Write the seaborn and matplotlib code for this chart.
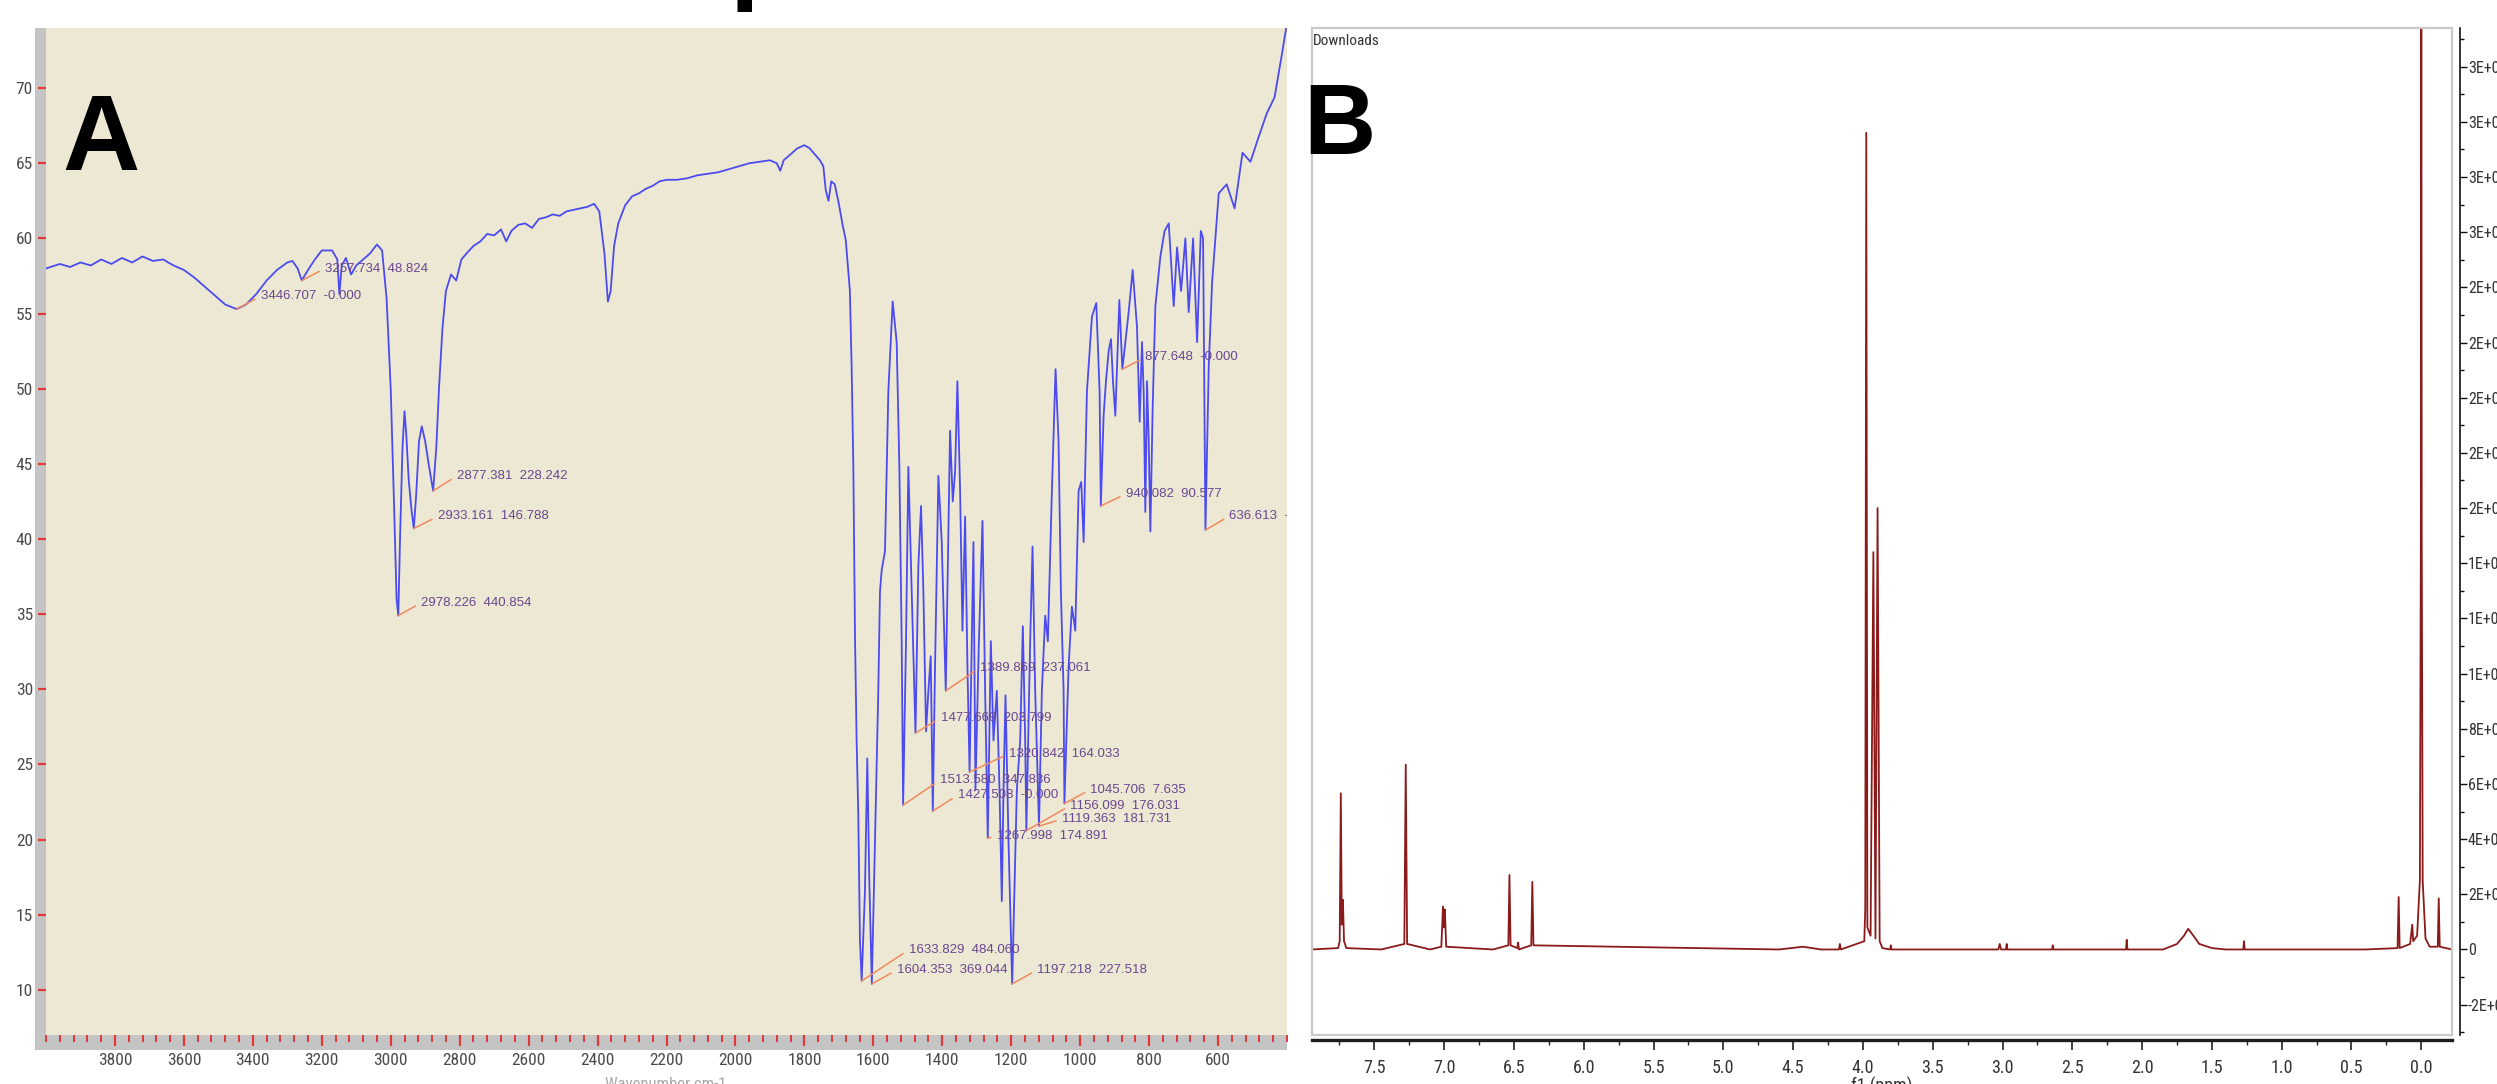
import matplotlib
matplotlib.use("Agg")
import matplotlib.pyplot as plt
import seaborn as sns
import numpy as np
from matplotlib import font_manager
from matplotlib.font_manager import FontProperties
from matplotlib.patches import Rectangle
from matplotlib.ticker import MultipleLocator, FuncFormatter, FormatStrFormatter

# ---- panel A: IR spectrum (wavenumber, %T) ----
ir_wn = [4000, 3960, 3930, 3900, 3870, 3840, 3810, 3780, 3750, 3720, 3690, 3660, 3630, 3600,
         3570, 3540, 3510, 3480, 3447, 3420, 3390, 3360, 3330, 3300, 3285, 3270, 3258, 3240,
         3220, 3200, 3170, 3155, 3149, 3142, 3130, 3115, 3100, 3080, 3060, 3040, 3025, 3012,
         3000, 2990, 2983, 2978, 2973, 2966, 2960, 2955, 2948, 2940, 2933, 2926, 2918, 2910,
         2900, 2890, 2877, 2868, 2860, 2850, 2840, 2825, 2810, 2795, 2780, 2760, 2740, 2720,
         2700, 2680, 2665, 2650, 2630, 2610, 2590, 2570, 2550, 2530, 2510, 2490, 2470, 2450,
         2430, 2410, 2395, 2380, 2370, 2362, 2352, 2340, 2320, 2300, 2280, 2260, 2240, 2220,
         2200, 2170, 2140, 2110, 2080, 2050, 2020, 1990, 1960, 1930, 1900, 1880, 1870, 1860,
         1840, 1820, 1800, 1785, 1770, 1755, 1745, 1738, 1730, 1722, 1712, 1700, 1690, 1680,
         1668, 1663, 1658, 1653, 1648.5, 1643.6, 1638.8, 1633.8, 1624.3, 1617.5, 1611.7,
         1604.4, 1595.2, 1585.6, 1580.7, 1575.9, 1566.2, 1556.5, 1543.9, 1532.3, 1524.5,
         1517.8, 1513.6, 1505.2, 1498.4, 1488.7, 1477.7, 1469.4, 1461.6, 1454.8, 1447.1,
         1440.3, 1433.5, 1427.5, 1421, 1411.3, 1401.6, 1389.9, 1377.4, 1369.6, 1362.8,
         1356.1, 1348.3, 1341.5, 1333.8, 1327, 1320.8, 1309.6, 1303.8, 1294, 1283.4, 1275.7,
         1268, 1259.2, 1251.5, 1241.8, 1234, 1227.3, 1222.4, 1216.6, 1207.9, 1197.2, 1183.7,
         1174, 1166.3, 1159.5, 1156.1, 1145, 1138.2, 1130.5, 1119.4, 1111.1, 1101.4, 1093.7,
         1082, 1071.4, 1062.7, 1055.9, 1048.1, 1045.7, 1033.6, 1023.9, 1014.2, 1004.6, 996.8,
         990, 980.4, 965.8, 953.3, 943.6, 940.1, 932, 925.2, 917.4, 910.6, 904.8, 898, 886.4,
         877.6, 869, 859.3, 847.7, 835.1, 827.4, 820.6, 815.8, 811, 806.1, 801.2, 796.4, 789.6,
         781.9, 767.3, 755, 743, 728.6, 718.9, 707.3, 694.8, 685.1, 672.4, 660.8, 650, 643.4,
         636.6, 627, 617.2, 598, 575, 552, 529, 506, 483, 459, 436, 413, 399]
ir_t = [58.0, 58.3, 58.1, 58.4, 58.2, 58.6, 58.3, 58.7, 58.4, 58.8, 58.5, 58.6, 58.2, 57.9,
        57.4, 56.8, 56.2, 55.6, 55.3, 55.6, 56.3, 57.2, 57.9, 58.4, 58.5, 58.0, 57.2, 57.9,
        58.6, 59.2, 59.2, 58.6, 56.3, 58.2, 58.7, 57.6, 58.2, 58.6, 59.0, 59.6, 59.2, 56.0,
        50.0, 42.0, 36.0, 34.9, 40.0, 46.0, 48.5, 47.0, 44.0, 42.0, 40.7, 43.0, 46.5, 47.5,
        46.5, 45.0, 43.2, 46.0, 50.0, 54.0, 56.5, 57.6, 57.2, 58.6, 59.0, 59.5, 59.8, 60.3,
        60.2, 60.6, 59.8, 60.5, 60.9, 61.0, 60.7, 61.3, 61.4, 61.6, 61.5, 61.8, 61.9, 62.0,
        62.1, 62.3, 61.8, 59.0, 55.8, 56.5, 59.5, 61.0, 62.2, 62.8, 63.0, 63.3, 63.5, 63.8,
        63.9, 63.9, 64.0, 64.2, 64.3, 64.4, 64.6, 64.8, 65.0, 65.1, 65.2, 65.0, 64.5, 65.2,
        65.6, 66.0, 66.2, 66.0, 65.6, 65.2, 64.8, 63.2, 62.5, 63.8, 63.6, 62.3, 61.0, 59.9,
        56.5, 51.5, 44.8, 33.2, 26.6, 21.6, 13.3, 10.6, 16.6, 25.4, 17.3,
        10.4, 19.9, 29.9, 36.5, 37.9, 39.2, 49.8, 55.8, 53.1, 44.8,
        33.2, 22.3, 33.2, 44.8, 36.5, 27.1, 38.2, 42.2, 36.5, 27.2,
        29.9, 32.2, 21.9, 31.5, 44.2, 39.8, 29.9, 47.2, 42.5, 44.5,
        50.5, 43.2, 33.9, 41.5, 31.5, 24.5, 39.8, 23.3, 33.0, 41.2, 29.9,
        20.1, 33.2, 26.6, 29.9, 23.3, 15.9, 23.3, 29.6, 19.9, 10.4, 23.3,
        26.6, 34.2, 26.6, 20.6, 33.2, 39.5, 29.9, 20.9, 29.9, 34.9, 33.2,
        43.2, 51.3, 46.5, 36.5, 29.9, 22.4, 31.5, 35.5, 33.9, 43.2, 43.8,
        39.8, 49.8, 54.8, 55.7, 49.8, 42.2, 48.2, 50.5, 52.5, 53.3, 50.5, 48.2, 55.9,
        51.3, 53.1, 55.1, 57.9, 54.1, 47.8, 53.1, 49.8, 41.8, 50.5, 46.5, 40.5, 48.8,
        55.5, 58.8, 60.5, 61.0, 55.5, 59.4, 56.5, 60.0, 55.1, 60.0, 53.1, 60.5, 60.0,
        40.6, 51.5, 57.1, 63.0, 63.6, 62.0, 65.7, 65.1, 66.7, 68.3, 69.4, 72.5, 74.5]

# peak picks printed on the IR trace
pick_wn = [3446.707, 3257.734, 2978.226, 2933.161, 2877.381, 1633.829, 1604.353, 1513.580,
           1477.669, 1427.508, 1389.869, 1320.842, 1267.998, 1197.218, 1156.099, 1119.363,
           1045.706, 940.082, 877.648, 636.613]
pick_t = [55.3, 57.2, 34.9, 40.7, 43.2, 10.6, 10.4, 22.3, 27.1, 21.9, 29.9, 24.5, 20.1,
          10.4, 20.6, 20.9, 22.4, 42.2, 51.3, 40.6]
pick_val = ["-0.000", "48.824", "440.854", "146.788", "228.242", "484.060", "369.044",
            "347.836", "203.799", "-0.000", "237.061", "164.033", "174.891", "227.518",
            "176.031", "181.731", "7.635", "90.577", "-0.000", "-0.000"]

# ---- panel B: 1H NMR spectrum (ppm, intensity) ----
nmr_ppm = [7.95, 7.76, 7.748, 7.74, 7.733, 7.725, 7.717, 7.70, 7.45, 7.285, 7.275, 7.265,
           7.10, 7.02, 7.008, 7.001, 6.995, 6.985, 6.65, 6.54, 6.532, 6.524, 6.476, 6.47,
           6.464, 6.376, 6.368, 6.36, 4.6, 4.43, 4.3, 4.172, 4.165, 4.158, 3.99, 3.983,
           3.976, 3.968, 3.945, 3.925, 3.91, 3.895, 3.88, 3.86, 3.805, 3.80, 3.795, 3.03,
           3.02, 3.01, 2.975, 2.97, 2.965, 2.645, 2.64, 2.635, 2.115, 2.11, 2.105, 1.85, 1.75,
           1.70, 1.67, 1.64, 1.59, 1.50, 1.40, 1.275, 1.27, 1.265, 0.40, 0.17, 0.162, 0.155,
           0.08, 0.065, 0.058, 0.03, 0.01, 0.003, 0.0, -0.003, -0.01, -0.03, -0.06, -0.118,
           -0.125, -0.132, -0.22]
nmr_int = [0, 0.05e7, 0.3e7, 5.66e7, 0.9e7, 1.8e7, 0.3e7, 0.05e7, 0, 0.2e7, 6.7e7, 0.2e7,
           0, 0.1e7, 1.56e7, 0.8e7, 1.45e7, 0.1e7, 0, 0.15e7, 2.7e7, 0.15e7, 0.05e7, 0.25e7,
           0, 0.15e7, 2.45e7, 0.15e7, 0, 0.1e7, 0, 0, 0.2e7, 0, 0.3e7, 1.5e7,
           29.6e7, 0.8e7, 0.5e7, 14.4e7, 0.4e7, 16.0e7, 0.3e7, 0.05e7, 0, 0.15e7, 0, 0,
           0.2e7, 0, 0, 0.2e7, 0, 0, 0.15e7, 0, 0, 0.35e7, 0, 0, 0.2e7,
           0.5e7, 0.75e7, 0.55e7, 0.2e7, 0.05e7, 0, 0, 0.3e7, 0, 0, 0.05e7, 1.9e7, 0.05e7,
           0.2e7, 0.9e7, 0.3e7, 0.5e7, 2.5e7, 15e7, 40e7, 15e7, 2.5e7, 0.4e7, 0.1e7, 0.1e7,
           1.85e7, 0.1e7, 0]
nmr_ticks_y = list(np.arange(-2e7, 3.21e8, 2e7))

W, H, DPI = 2497, 1084, 100

sns.set_style("ticks")
plt.rcParams["font.family"] = ["Liberation Sans", "DejaVu Sans"]


def find_narrow():
    # look for an installed condensed sans face for the axis numbers
    prefs = ["Liberation Sans Narrow", "Roboto Condensed", "DejaVu Sans Condensed",
             "Open Sans Condensed", "Noto Sans Condensed"]
    found = {}
    for f in font_manager.fontManager.ttflist:
        if f.style != "normal" or f.weight not in (400, "normal", "regular", "book"):
            continue
        if "Narrow" in f.name or "Condensed" in f.name or f.stretch == "condensed":
            found.setdefault(f.name, f.fname)
    for p in prefs:
        if p in found:
            return found[p]
    return next(iter(found.values()), None)


NARROW_PATH = find_narrow()


def narrow(size):
    if NARROW_PATH:
        return FontProperties(fname=NARROW_PATH, size=size)
    return FontProperties(family="Liberation Sans", size=size * 0.85)


def box(x0, y0, x1, y1):
    # pixel box (top-left origin) -> figure fraction rect
    return [x0 / W, 1 - y1 / H, (x1 - x0) / W, (y1 - y0) / H]


fig = plt.figure(figsize=(W / DPI, H / DPI), dpi=DPI)
fig.patch.set_facecolor("white")
px = 72 / DPI  # points per pixel

# ---------------- panel A ----------------
axA = fig.add_axes(box(46, 28, 1287, 1035))
axA.set_facecolor("#ede8d3")
for r in (box(35, 28, 46, 1050), box(35, 1035, 1287, 1050)):
    fig.add_artist(Rectangle((r[0], r[1]), r[2], r[3], transform=fig.transFigure,
                             facecolor="#c4c4c4", edgecolor="none", zorder=-1))
sns.lineplot(x=ir_wn, y=ir_t, ax=axA, color="#4b4bf0", linewidth=1.3,
             estimator=None, sort=False)
axA.set_xlim(4000, 400)
axA.set_ylim(7, 74)
for s in axA.spines.values():
    s.set_visible(False)
axA.xaxis.set_minor_locator(MultipleLocator(40))
axA.yaxis.set_major_locator(MultipleLocator(5))
axA.set_xticks(range(3800, 599, -200))
axA.tick_params(axis="x", which="major", direction="out", length=11 * px, width=1.6,
                color="#e03a3a", pad=7 * px, labelcolor="#4a4a4a")
axA.tick_params(axis="x", which="minor", direction="out", length=7 * px, width=1.4,
                color="#e03a3a")
axA.tick_params(axis="y", direction="out", length=8 * px, width=1.6, color="#e03a3a",
                pad=5 * px, labelcolor="#4a4a4a")
for lab in axA.get_xticklabels() + axA.get_yticklabels():
    lab.set_fontproperties(narrow(12.5))
axA.set_xlabel("")
axA.set_ylabel("")

# text offsets of the peak labels, in pixels (right, up)
pick_dx = [24, 23, 23, 24, 24, 47, 25, 37, 25, 25, 34, 39, 9, 25, 44, 23, 26, 25, 23, 24]
pick_dy = [13, 12, 13, 12, 15, 31, 14, 25, 15, 16, 23, 18, 2, 14, 25, 7, 14, 12, 12, 14]
for wn, t, v, dx, dy in zip(pick_wn, pick_t, pick_val, pick_dx, pick_dy):
    ann = axA.annotate(f"{wn:.3f}  {v}", xy=(wn, t), xytext=(dx * px, dy * px),
                       textcoords="offset points", ha="left", va="center",
                       fontsize=9.5, color="#6b4690",
                       arrowprops=dict(arrowstyle="-", color="#f08a5d", lw=1.1,
                                       shrinkA=2, shrinkB=0, relpos=(0, 0.5)))
    ann.set_clip_on(True)
    ann.set_clip_box(axA.bbox)

fig.text(666 / W, 1 - 1077 / H, "Wavenumber cm-1", ha="center", va="top",
         fontproperties=narrow(12), color="#a8a8a8")

# ---------------- panel B ----------------
axB = fig.add_axes(box(1311.5, 28, 2452, 1035))
axB.set_facecolor("white")
sns.lineplot(x=nmr_ppm, y=nmr_int, ax=axB, color="#8b1a1a", linewidth=1.3,
             estimator=None, sort=False)
axB.set_xlim(7.95, -0.22)
axB.set_ylim(-3.1e7, 3.34e8)
axB.spines["left"].set_visible(False)
axB.spines["top"].set_visible(False)
axB.spines["right"].set_position(("outward", 8 * px))
axB.spines["right"].set_linewidth(1.2)
axB.spines["right"].set_color("#111111")
axB.spines["bottom"].set_position(("outward", 5 * px))
axB.spines["bottom"].set_linewidth(2.4)
axB.spines["bottom"].set_color("#1e1e1e")
axB.add_patch(Rectangle((0, 0), 1, 1, transform=axB.transAxes, fill=False,
                        edgecolor="#c9c9c9", lw=1.6, clip_on=False, zorder=5))

axB.xaxis.set_major_locator(MultipleLocator(0.5))
axB.xaxis.set_minor_locator(MultipleLocator(0.25))
axB.xaxis.set_major_formatter(FormatStrFormatter("%.1f"))
axB.tick_params(axis="x", which="major", direction="out", length=10 * px, width=1.2,
                color="#222222", pad=9 * px, labelcolor="#333333")
axB.tick_params(axis="x", which="minor", direction="out", length=5 * px, width=1.0,
                color="#222222")

axB.yaxis.tick_right()
axB.set_yticks(nmr_ticks_y)
axB.yaxis.set_minor_locator(MultipleLocator(1e7))


def sci(v, pos):
    if abs(v) < 1:
        return "0"
    return f"{v:.0E}"


axB.yaxis.set_major_formatter(FuncFormatter(sci))
axB.tick_params(axis="y", which="major", direction="out", length=7 * px, width=1.0,
                color="#111111", pad=1 * px, labelcolor="#333333")
axB.tick_params(axis="y", which="minor", direction="out", length=4 * px, width=1.0,
                color="#111111")
for lab in axB.get_xticklabels():
    lab.set_fontproperties(narrow(13))
for lab in axB.get_yticklabels():
    lab.set_fontproperties(narrow(11.5))
axB.set_xlabel("")
axB.set_ylabel("")

fig.text(1882 / W, 1 - 1077 / H, "f1 (ppm)", ha="center", va="top",
         fontproperties=narrow(13), color="#333333")
fig.text(1313 / W, 1 - 41 / H, "Downloads", ha="left", va="center",
         fontproperties=narrow(11), color="#333333")

# panel letters and the clipped title descender
fig.text(62 / W, 1 - 170 / H, "A", fontsize=77, fontweight="bold", color="black",
         ha="left", va="baseline")
fig.text(1303 / W, 1 - 154 / H, "B", fontsize=72, fontweight="bold", color="black",
         ha="left", va="baseline")
fig.text(730 / W, 1 + 10 / H, "p", fontsize=77, fontweight="bold", color="black",
         ha="left", va="baseline")

fig.savefig("out.png", dpi=DPI, facecolor="white")
